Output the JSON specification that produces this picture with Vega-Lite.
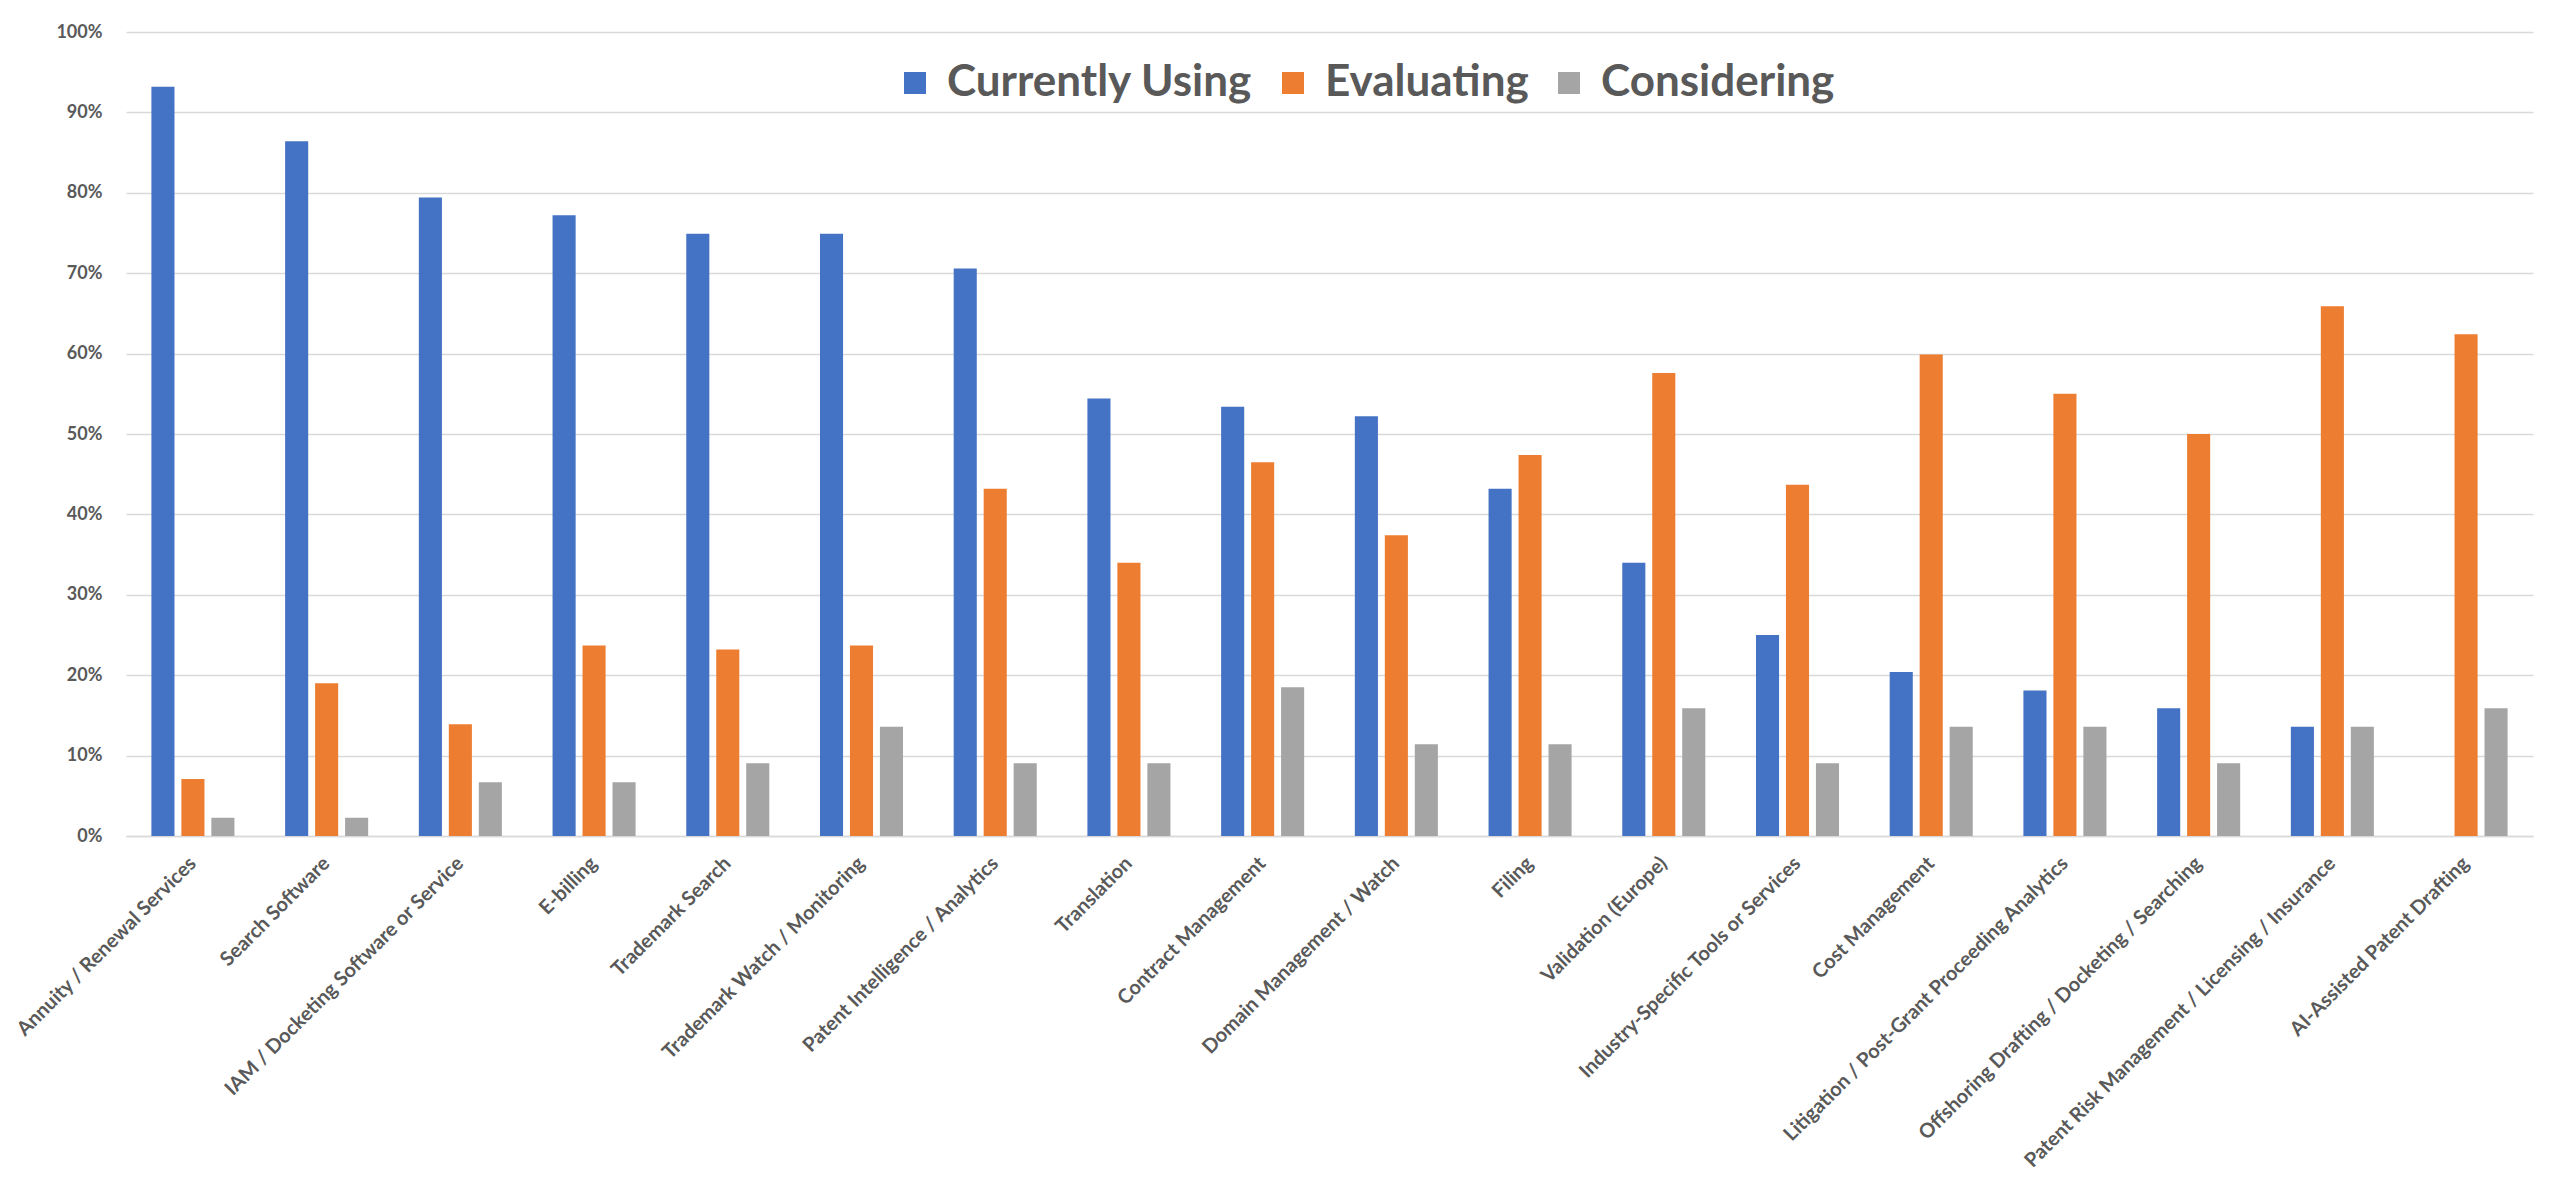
{
  "$schema": "https://vega.github.io/schema/vega-lite/v6.json",
  "width": 2407,
  "height": 804,
  "autosize": {"type": "none"},
  "padding": {"left": 126, "top": 32, "right": 19, "bottom": 348},
  "background": "white",
  "config": {"view": {"stroke": null}, "font": "Lato"},
  "data": {
    "values": [
      {"category": "Annuity / Renewal Services", "series": "Currently Using", "value": 0.932},
      {"category": "Annuity / Renewal Services", "series": "Evaluating", "value": 0.071},
      {"category": "Annuity / Renewal Services", "series": "Considering", "value": 0.0227},
      {"category": "Search Software", "series": "Currently Using", "value": 0.864},
      {"category": "Search Software", "series": "Evaluating", "value": 0.19},
      {"category": "Search Software", "series": "Considering", "value": 0.0227},
      {"category": "IAM / Docketing Software or Service", "series": "Currently Using", "value": 0.794},
      {"category": "IAM / Docketing Software or Service", "series": "Evaluating", "value": 0.139},
      {"category": "IAM / Docketing Software or Service", "series": "Considering", "value": 0.067},
      {"category": "E-billing", "series": "Currently Using", "value": 0.772},
      {"category": "E-billing", "series": "Evaluating", "value": 0.237},
      {"category": "E-billing", "series": "Considering", "value": 0.067},
      {"category": "Trademark Search", "series": "Currently Using", "value": 0.749},
      {"category": "Trademark Search", "series": "Evaluating", "value": 0.232},
      {"category": "Trademark Search", "series": "Considering", "value": 0.0905},
      {"category": "Trademark Watch / Monitoring", "series": "Currently Using", "value": 0.749},
      {"category": "Trademark Watch / Monitoring", "series": "Evaluating", "value": 0.237},
      {"category": "Trademark Watch / Monitoring", "series": "Considering", "value": 0.136},
      {"category": "Patent Intelligence / Analytics", "series": "Currently Using", "value": 0.706},
      {"category": "Patent Intelligence / Analytics", "series": "Evaluating", "value": 0.432},
      {"category": "Patent Intelligence / Analytics", "series": "Considering", "value": 0.0905},
      {"category": "Translation", "series": "Currently Using", "value": 0.544},
      {"category": "Translation", "series": "Evaluating", "value": 0.34},
      {"category": "Translation", "series": "Considering", "value": 0.0905},
      {"category": "Contract Management", "series": "Currently Using", "value": 0.534},
      {"category": "Contract Management", "series": "Evaluating", "value": 0.465},
      {"category": "Contract Management", "series": "Considering", "value": 0.185},
      {"category": "Domain Management / Watch", "series": "Currently Using", "value": 0.522},
      {"category": "Domain Management / Watch", "series": "Evaluating", "value": 0.374},
      {"category": "Domain Management / Watch", "series": "Considering", "value": 0.114},
      {"category": "Filing", "series": "Currently Using", "value": 0.432},
      {"category": "Filing", "series": "Evaluating", "value": 0.474},
      {"category": "Filing", "series": "Considering", "value": 0.114},
      {"category": "Validation (Europe)", "series": "Currently Using", "value": 0.34},
      {"category": "Validation (Europe)", "series": "Evaluating", "value": 0.576},
      {"category": "Validation (Europe)", "series": "Considering", "value": 0.159},
      {"category": "Industry-Specific Tools or Services", "series": "Currently Using", "value": 0.25},
      {"category": "Industry-Specific Tools or Services", "series": "Evaluating", "value": 0.437},
      {"category": "Industry-Specific Tools or Services", "series": "Considering", "value": 0.0905},
      {"category": "Cost Management", "series": "Currently Using", "value": 0.204},
      {"category": "Cost Management", "series": "Evaluating", "value": 0.599},
      {"category": "Cost Management", "series": "Considering", "value": 0.136},
      {"category": "Litigation / Post-Grant Proceeding Analytics", "series": "Currently Using", "value": 0.181},
      {"category": "Litigation / Post-Grant Proceeding Analytics", "series": "Evaluating", "value": 0.55},
      {"category": "Litigation / Post-Grant Proceeding Analytics", "series": "Considering", "value": 0.136},
      {"category": "Offshoring Drafting / Docketing / Searching", "series": "Currently Using", "value": 0.159},
      {"category": "Offshoring Drafting / Docketing / Searching", "series": "Evaluating", "value": 0.5},
      {"category": "Offshoring Drafting / Docketing / Searching", "series": "Considering", "value": 0.0905},
      {"category": "Patent Risk Management / Licensing / Insurance", "series": "Currently Using", "value": 0.136},
      {"category": "Patent Risk Management / Licensing / Insurance", "series": "Evaluating", "value": 0.659},
      {"category": "Patent Risk Management / Licensing / Insurance", "series": "Considering", "value": 0.136},
      {"category": "AI-Assisted Patent Drafting", "series": "Currently Using", "value": 0},
      {"category": "AI-Assisted Patent Drafting", "series": "Evaluating", "value": 0.624},
      {"category": "AI-Assisted Patent Drafting", "series": "Considering", "value": 0.159}
    ]
  },
  "mark": {"type": "bar"},
  "encoding": {
    "x": {
      "field": "category",
      "type": "nominal",
      "sort": null,
      "scale": {"paddingInner": 0.379, "paddingOuter": 0.19},
      "axis": {
        "title": null,
        "labelAngle": -45,
        "labelAlign": "right",
        "labelBaseline": "middle",
        "labelFontSize": 20,
        "labelFontWeight": "bold",
        "labelColor": "#595959",
        "labelPadding": 24,
        "labelLimit": 0,
        "labelOverlap": false,
        "ticks": false,
        "domainColor": "#d9d9d9",
        "domainWidth": 1.5
      }
    },
    "xOffset": {
      "field": "series",
      "type": "nominal",
      "sort": ["Currently Using", "Evaluating", "Considering"],
      "scale": {"paddingInner": 0.23, "paddingOuter": 0}
    },
    "y": {
      "field": "value",
      "type": "quantitative",
      "scale": {"domain": [0, 1]},
      "axis": {
        "title": null,
        "format": ".0%",
        "values": [0, 0.1, 0.2, 0.3, 0.4, 0.5, 0.6, 0.7, 0.8, 0.9, 1],
        "labelFontSize": 18,
        "labelFontWeight": "bold",
        "labelColor": "#595959",
        "labelPadding": 24,
        "ticks": false,
        "domain": false,
        "gridColor": "#d9d9d9",
        "gridWidth": 1.5
      }
    },
    "color": {
      "field": "series",
      "type": "nominal",
      "sort": ["Currently Using", "Evaluating", "Considering"],
      "scale": {
        "domain": ["Currently Using", "Evaluating", "Considering"],
        "range": ["#4472C4", "#ED7D31", "#A5A5A5"]
      },
      "legend": {
        "title": null,
        "orient": "none",
        "legendX": 767,
        "legendY": 29,
        "direction": "horizontal",
        "symbolType": "square",
        "symbolSize": 484,
        "symbolStrokeWidth": 0,
        "symbolOpacity": 1,
        "labelFontSize": 44,
        "labelFontWeight": "bold",
        "labelColor": "#595959",
        "labelOffset": 10,
        "columnPadding": 18,
        "labelLimit": 0
      }
    }
  }
}
